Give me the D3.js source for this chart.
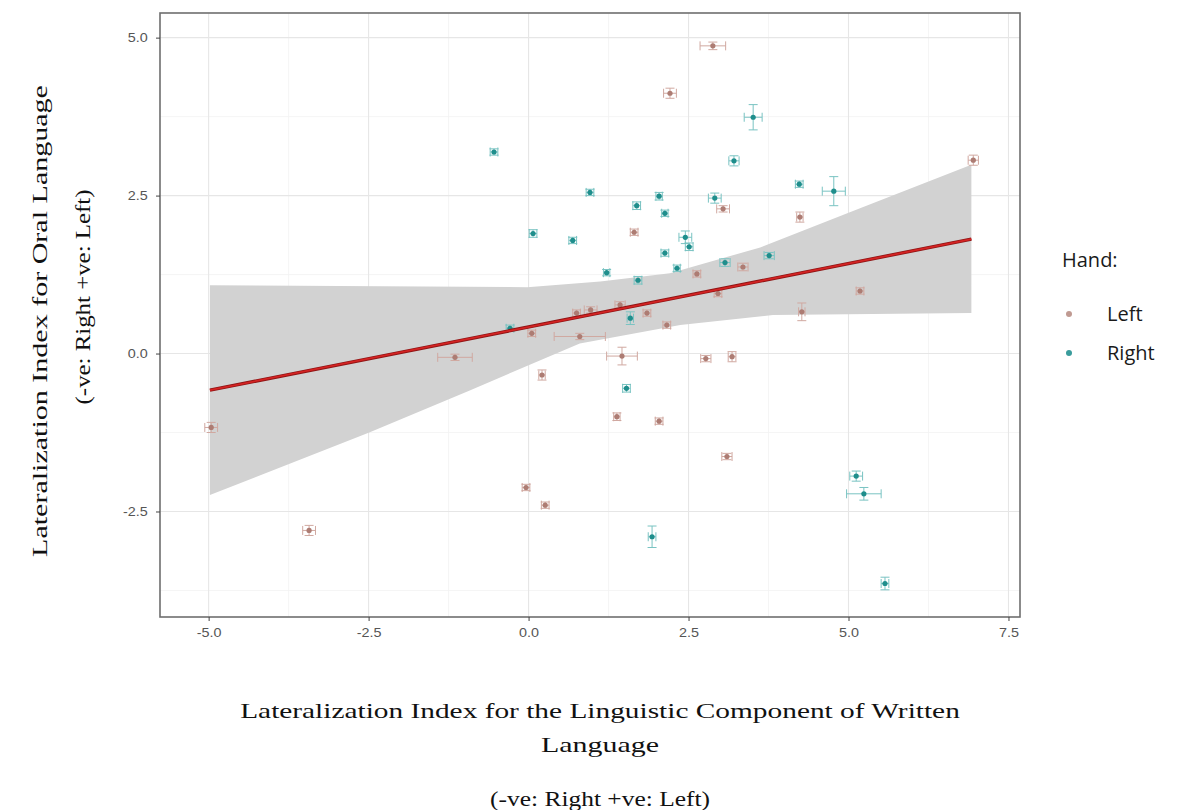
<!DOCTYPE html>
<html>
<head>
<meta charset="utf-8">
<script src="https://cdn.jsdelivr.net/npm/d3@7"></script>
<style>
  body { margin: 0; background: #fff; }
  svg { display: block; }
</style>
</head>
<body>
<svg id="chart" width="1185" height="810"></svg>
<script>
// Each point: [x, y, xError, yError]
const leftPoints = [
  [-4.96, -1.17, 0.10, 0.08], [-3.43, -2.80, 0.10, 0.08], [-1.15, -0.06, 0.27, 0.05],
  [0.21, -0.34, 0.05, 0.08], [-0.04, -2.12, 0.06, 0.05], [0.26, -2.40, 0.06, 0.05],
  [0.80, 0.27, 0.40, 0.05], [1.46, -0.04, 0.24, 0.14], [1.38, -1.00, 0.05, 0.06],
  [2.04, -1.07, 0.06, 0.05], [0.05, 0.32, 0.06, 0.05], [2.88, 4.87, 0.20, 0.06],
  [2.21, 4.12, 0.10, 0.08], [6.95, 3.06, 0.08, 0.08], [4.24, 2.16, 0.05, 0.08],
  [3.04, 2.29, 0.10, 0.05], [1.65, 1.92, 0.06, 0.05], [3.35, 1.37, 0.08, 0.06],
  [2.63, 1.26, 0.06, 0.05], [5.18, 0.99, 0.06, 0.05], [4.27, 0.66, 0.05, 0.14],
  [1.85, 0.64, 0.06, 0.05], [2.16, 0.45, 0.06, 0.05], [1.43, 0.77, 0.08, 0.05],
  [0.97, 0.69, 0.10, 0.05], [0.75, 0.64, 0.06, 0.05], [2.77, -0.08, 0.08, 0.05],
  [3.18, -0.05, 0.06, 0.08], [3.10, -1.63, 0.08, 0.05], [2.96, 0.95, 0.06, 0.05]
];
const rightPoints = [
  [-0.54, 3.19, 0.06, 0.05], [0.07, 1.90, 0.06, 0.06], [0.69, 1.79, 0.06, 0.05],
  [0.96, 2.55, 0.06, 0.05], [3.51, 3.74, 0.14, 0.20], [3.21, 3.05, 0.08, 0.08],
  [4.23, 2.68, 0.06, 0.05], [4.77, 2.57, 0.18, 0.23], [1.69, 2.34, 0.06, 0.06],
  [2.04, 2.49, 0.05, 0.06], [2.13, 2.22, 0.05, 0.05], [2.91, 2.46, 0.10, 0.08],
  [2.45, 1.84, 0.10, 0.10], [2.51, 1.69, 0.06, 0.06], [2.13, 1.59, 0.06, 0.05],
  [1.22, 1.28, 0.05, 0.05], [2.32, 1.35, 0.05, 0.05], [1.71, 1.16, 0.06, 0.06],
  [3.07, 1.44, 0.08, 0.06], [3.76, 1.55, 0.08, 0.05], [1.59, 0.56, 0.05, 0.10],
  [1.53, -0.55, 0.06, 0.06], [5.12, -1.94, 0.10, 0.08], [5.24, -2.22, 0.27, 0.10],
  [1.93, -2.90, 0.06, 0.17], [5.57, -3.64, 0.06, 0.10], [-0.29, 0.40, 0.06, 0.05]
];

// Fitted line and its band, as drawn
const fitX = [-4.98, 6.92];
const fitY = [-0.58, 1.81];
const bandUpper = [[-4.98, 1.08], [-0.02, 1.05], [1.12, 1.14], [2.21, 1.27], [3.62, 1.68], [5.18, 2.30], [6.92, 2.99]];
const bandLower = [[-4.98, -2.24], [-2.49, -1.25], [-0.91, -0.58], [0.80, 0.16], [2.37, 0.45], [3.82, 0.61], [6.92, 0.64]];

const xTicks = [-5, -2.5, 0, 2.5, 5, 7.5];
const yTicks = [-2.5, 0, 2.5, 5];
const xMinor = [-3.75, -1.25, 1.25, 3.75, 6.25];
const yMinor = [-3.75, -1.25, 1.25, 3.75];
const groups = ['Left', 'Right'];

const panel = { left: 160, right: 1020, top: 13, bottom: 617 };
const colors = { Left: '#ad7c73', Right: '#1f8e8c' };
const barColors = { Left: '#d0a8a0', Right: '#79c3c2' };

const svg = d3.select('#chart');

const x = d3.scaleLinear().domain([-5.76, 7.68]).range([panel.left, panel.right]);
const y = d3.scaleLinear().domain([-4.17, 5.39]).range([panel.bottom, panel.top]);

// Grid
const grid = svg.append('g');
grid.selectAll('.xminor').data(xMinor).enter().append('line')
  .attr('x1', d => x(d)).attr('x2', d => x(d))
  .attr('y1', panel.top).attr('y2', panel.bottom)
  .attr('stroke', '#f2f2f2').attr('stroke-width', 0.8);
grid.selectAll('.yminor').data(yMinor).enter().append('line')
  .attr('y1', d => y(d)).attr('y2', d => y(d))
  .attr('x1', panel.left).attr('x2', panel.right)
  .attr('stroke', '#f2f2f2').attr('stroke-width', 0.8);
grid.selectAll('.xmajor').data(xTicks).enter().append('line')
  .attr('x1', d => x(d)).attr('x2', d => x(d))
  .attr('y1', panel.top).attr('y2', panel.bottom)
  .attr('stroke', '#e6e6e6').attr('stroke-width', 1.1);
grid.selectAll('.ymajor').data(yTicks).enter().append('line')
  .attr('y1', d => y(d)).attr('y2', d => y(d))
  .attr('x1', panel.left).attr('x2', panel.right)
  .attr('stroke', '#e6e6e6').attr('stroke-width', 1.1);

// Confidence band
const bandPoly = bandUpper.concat(bandLower.slice().reverse());
svg.append('path')
  .attr('d', d3.line().x(d => x(d[0])).y(d => y(d[1]))(bandPoly) + 'Z')
  .attr('fill', '#d2d2d2');

// Points with error bars
const cap = 4.5;
groups.forEach(g => {
  const pts = g === 'Left' ? leftPoints : rightPoints;
  const pg = svg.append('g').attr('class', 'pts-' + g);
  const item = pg.selectAll('g').data(pts).enter().append('g');
  const bar = barColors[g];
  // horizontal error bar
  item.append('path')
    .attr('d', d => {
      const x0 = x(d[0] - d[2]), x1 = x(d[0] + d[2]), yy = y(d[1]);
      return `M${x0},${yy}H${x1}M${x0},${yy - cap}V${yy + cap}M${x1},${yy - cap}V${yy + cap}`;
    })
    .attr('stroke', bar).attr('stroke-width', 1).attr('fill', 'none');
  // vertical error bar
  item.append('path')
    .attr('d', d => {
      const y0 = y(d[1] - d[3]), y1 = y(d[1] + d[3]), xx = x(d[0]);
      return `M${xx},${y0}V${y1}M${xx - cap},${y0}H${xx + cap}M${xx - cap},${y1}H${xx + cap}`;
    })
    .attr('stroke', bar).attr('stroke-width', 1).attr('fill', 'none');
  item.append('circle')
    .attr('cx', d => x(d[0])).attr('cy', d => y(d[1]))
    .attr('r', 2.6).attr('fill', colors[g]);
});

// Regression line
svg.append('line')
  .attr('x1', x(fitX[0])).attr('y1', y(fitY[0]))
  .attr('x2', x(fitX[1])).attr('y2', y(fitY[1]))
  .attr('stroke', '#8e1414').attr('stroke-width', 3.4);
svg.append('line')
  .attr('x1', x(fitX[0])).attr('y1', y(fitY[0]))
  .attr('x2', x(fitX[1])).attr('y2', y(fitY[1]))
  .attr('stroke', '#d42323').attr('stroke-width', 1.8);

// Panel border
svg.append('rect')
  .attr('x', panel.left).attr('y', panel.top)
  .attr('width', panel.right - panel.left).attr('height', panel.bottom - panel.top)
  .attr('fill', 'none').attr('stroke', '#6e6e6e').attr('stroke-width', 1.6);

// Axes
const fmt = d => d3.format('.1f')(d).replace('\u2212', '-');
const xAxis = svg.append('g')
  .attr('transform', `translate(0,${panel.bottom})`)
  .call(d3.axisBottom(x).tickValues(xTicks).tickFormat(fmt).tickSize(4).tickPadding(7));
const yAxis = svg.append('g')
  .attr('transform', `translate(${panel.left},0)`)
  .call(d3.axisLeft(y).tickValues(yTicks).tickFormat(fmt).tickSize(4).tickPadding(5));
[xAxis, yAxis].forEach(a => {
  a.select('.domain').remove();
  a.selectAll('.tick line').attr('stroke', '#444');
  a.selectAll('.tick text')
    .attr('fill', '#555')
    .style('font-family', '"Liberation Sans", Arial, sans-serif')
    .style('font-size', '12.5px');
});
xAxis.selectAll('.tick text').attr('transform', 'scale(1.15,1)');
yAxis.selectAll('.tick text').attr('transform', 'translate(-2,0) scale(1.15,1)');

// Axis titles (serif), stretched to the widths seen in the picture
const serif = '"Liberation Serif", "Times New Roman", serif';
function stretch(sel) {
  sel.each(function (d) {
    const natural = this.getComputedTextLength();
    const sx = d.len / natural;
    const rot = d.rot ? ' rotate(-90)' : '';
    d3.select(this).attr('transform', `translate(${d.cx},${d.cy})${rot} scale(${sx},1)`);
  });
}
const titles = [
  { text: 'Lateralization Index for the Linguistic Component of Written', cx: 600, cy: 718, len: 720 },
  { text: 'Language', cx: 600, cy: 752, len: 118 },
  { text: '(-ve: Right +ve: Left)', cx: 600, cy: 806, len: 220 },
  { text: 'Lateralization Index for Oral Language', cx: 47, cy: 321, len: 472, rot: true },
  { text: '(-ve: Right +ve: Left)', cx: 90, cy: 297, len: 215, rot: true }
];
svg.selectAll('.title').data(titles).enter().append('text')
  .attr('text-anchor', 'middle')
  .style('font-family', serif).style('font-size', '21px').attr('fill', '#111')
  .text(d => d.text)
  .call(stretch);

// Legend
const legend = svg.append('g').attr('transform', 'translate(1062,0)');
legend.append('text')
  .attr('x', 0).attr('y', 267)
  .style('font-family', '"Open Sans", sans-serif').style('font-size', '20px')
  .attr('fill', '#1a1a1a').text('Hand:');
const keys = legend.selectAll('.key').data(groups).enter().append('g')
  .attr('transform', (d, i) => `translate(0,${314 + i * 39})`);
keys.append('circle').attr('cx', 7).attr('cy', 0).attr('r', 3)
  .attr('fill', d => d === 'Left' ? '#c09a92' : '#3a9c9c');
keys.append('text').attr('x', 45).attr('y', 7)
  .style('font-family', '"Open Sans", sans-serif').style('font-size', '20px')
  .attr('fill', '#1a1a1a').text(d => d);
</script>
</body>
</html>
